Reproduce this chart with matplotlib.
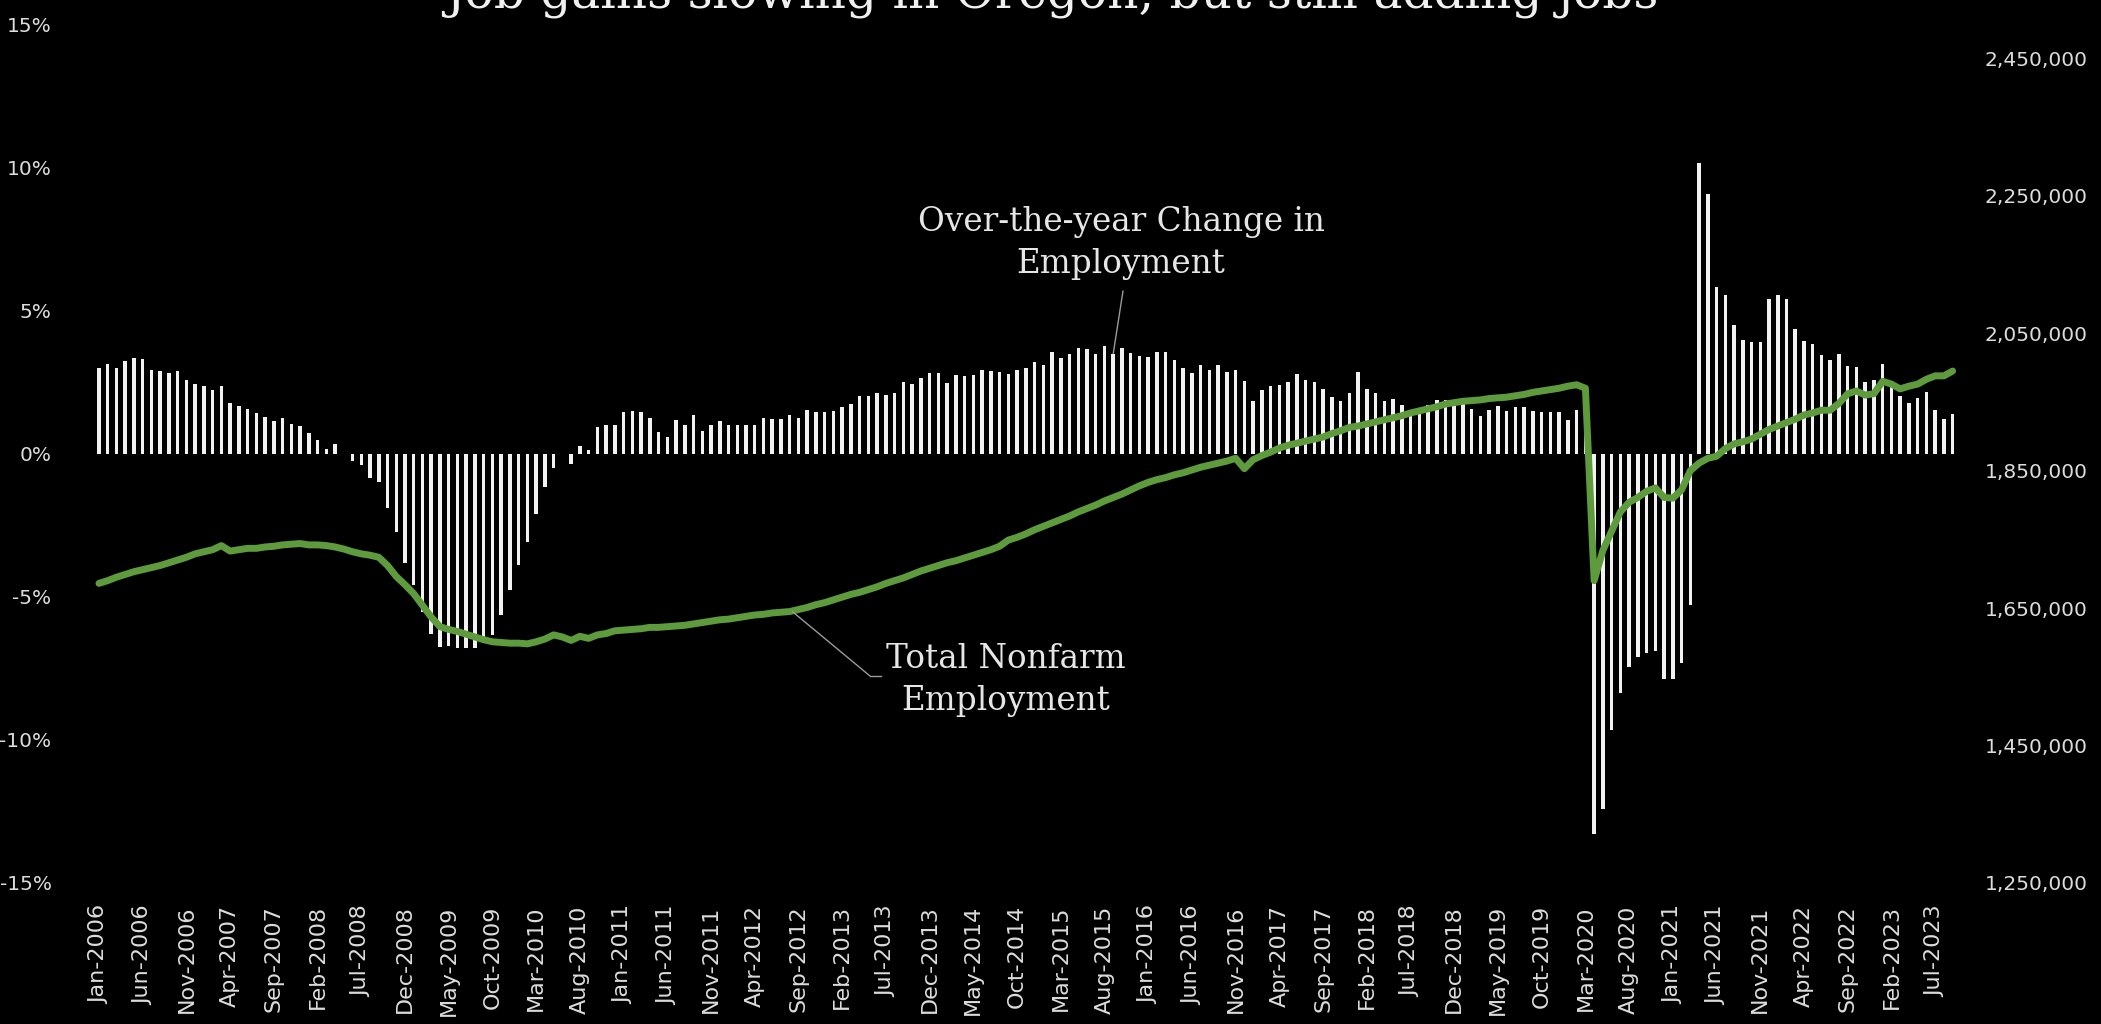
import numpy as np
import pandas as pd
import matplotlib
matplotlib.use("Agg")
import matplotlib.pyplot as plt
from matplotlib.lines import Line2D

# monthly series, Jan 2006 - Sep 2023
months = pd.date_range("2006-01-01", periods=213, freq="MS")
month_labels = list(months.strftime("%b-%Y"))

# over-the-year change in employment, percent
yoy_pct = [
    3.00, 3.14, 3.00, 3.22, 3.32, 3.29, 2.93, 2.88, 2.82, 2.88, 2.58, 2.44,
    2.34, 2.22, 2.36, 1.78, 1.65, 1.54, 1.43, 1.27, 1.14, 1.23, 1.02, 0.97,
    0.72, 0.47, 0.15, 0.33, 0.00, -0.25, -0.40, -0.87, -1.00, -1.90, -2.74, -3.84,
    -4.60, -5.53, -6.32, -6.75, -6.72, -6.80, -6.78, -6.80, -6.58, -6.34, -5.64, -4.77,
    -3.90, -3.08, -2.10, -1.16, -0.52, 0.00, -0.35, 0.27, 0.12, 0.92, 0.98, 1.00,
    1.45, 1.50, 1.45, 1.25, 0.74, 0.59, 1.16, 0.98, 1.35, 0.80, 0.98, 1.13,
    0.98, 0.98, 0.98, 0.98, 1.25, 1.20, 1.20, 1.35, 1.25, 1.53, 1.45, 1.45,
    1.50, 1.62, 1.74, 2.00, 2.00, 2.10, 2.06, 2.13, 2.50, 2.43, 2.63, 2.80,
    2.82, 2.45, 2.75, 2.70, 2.75, 2.92, 2.88, 2.84, 2.76, 2.92, 2.97, 3.20,
    3.08, 3.55, 3.32, 3.49, 3.67, 3.64, 3.49, 3.75, 3.49, 3.67, 3.52, 3.41,
    3.38, 3.55, 3.55, 3.26, 2.99, 2.82, 3.10, 2.91, 3.08, 2.83, 2.91, 2.53,
    1.83, 2.21, 2.35, 2.39, 2.48, 2.76, 2.58, 2.50, 2.27, 1.98, 1.83, 2.13,
    2.85, 2.24, 2.12, 1.83, 1.90, 1.71, 1.34, 1.51, 1.71, 1.86, 1.86, 1.69,
    1.92, 1.57, 1.32, 1.52, 1.65, 1.50, 1.64, 1.64, 1.47, 1.44, 1.44, 1.44,
    1.17, 1.52, 0.80, -13.30, -12.40, -9.65, -8.36, -7.47, -7.09, -6.97, -6.89, -7.89,
    -7.89, -7.31, -5.30, 10.13, 9.08, 5.82, 5.54, 4.48, 3.95, 3.90, 3.90, 5.40,
    5.52, 5.40, 4.35, 3.93, 3.81, 3.44, 3.28, 3.48, 3.06, 3.01, 2.51, 2.56,
    3.14, 2.31, 2.00, 1.77, 1.94, 2.14, 1.52, 1.22, 1.39,
]

# total nonfarm employment, thousands
nonfarm_k = [
    1686, 1690, 1695, 1699, 1703, 1706, 1709, 1712, 1716, 1720, 1724, 1729,
    1732, 1735, 1741, 1733, 1735, 1737, 1737, 1739, 1740, 1742, 1743, 1744,
    1742, 1742, 1741, 1739, 1736, 1732, 1729, 1727, 1724, 1712, 1696, 1684,
    1671, 1654, 1637, 1623, 1619, 1616, 1612, 1608, 1604, 1601, 1600, 1599,
    1599, 1598, 1601, 1605, 1611, 1608, 1603, 1609, 1606, 1611, 1613, 1617,
    1618, 1619, 1620, 1622, 1622, 1623, 1624, 1625, 1627, 1629, 1631, 1633,
    1634, 1636, 1638, 1640, 1641, 1643, 1644, 1645, 1648, 1651, 1655, 1658,
    1662, 1666, 1670, 1673, 1677, 1681, 1686, 1690, 1694, 1699, 1704, 1708,
    1712, 1716, 1719, 1723, 1727, 1731, 1735, 1740, 1749, 1753, 1758, 1764,
    1769, 1774, 1779, 1784, 1790, 1795, 1800, 1806, 1811, 1816, 1822, 1828,
    1833, 1837, 1840, 1844, 1847, 1851, 1855, 1858, 1861, 1864, 1868, 1853,
    1866, 1872, 1877, 1883, 1887, 1890, 1893, 1896, 1899, 1904, 1908, 1913,
    1915, 1918, 1921, 1924, 1927, 1930, 1934, 1937, 1940, 1943, 1947, 1949,
    1951, 1952, 1953, 1955, 1956, 1957, 1959, 1961, 1964, 1966, 1968, 1970,
    1973, 1975, 1970, 1690, 1734, 1762, 1790, 1804, 1811, 1820, 1825, 1811,
    1810, 1822, 1850, 1861, 1868, 1871, 1882, 1889, 1892, 1896, 1903, 1910,
    1915, 1920, 1925, 1931, 1934, 1938, 1938, 1948, 1962, 1966, 1960, 1962,
    1980, 1976, 1969, 1973, 1976, 1983, 1988, 1988, 1995,
]
nonfarm = np.array(nonfarm_k) * 1000

pct_ticks = [-15, -10, -5, 0, 5, 10, 15]
pct_labels = ["-15%", "-10%", "-5%", "0%", "5%", "10%", "15%"]
emp_ticks = [1250000, 1450000, 1650000, 1850000, 2050000, 2250000, 2450000]

W, H = 2101, 1024
txt = "#dcdcdc"
green = "#5e9b3c"

fig = plt.figure(figsize=(W / 100, H / 100), dpi=100, facecolor="black")
ax = fig.add_axes([94.6 / W, 1 - 883 / H, (1957 - 94.6) / W, (883 - 24) / H])
ax.set_facecolor("black")

x = np.arange(len(months))
ax.bar(x, yoy_pct, width=0.4, color="#f2f2f2", zorder=2)
ax.set_xlim(-0.5, len(months) - 0.5)
ax.set_ylim(-15, 15)
ax.set_yticks(pct_ticks)
ax.set_yticklabels(pct_labels, family="DejaVu Sans", fontsize=14.5)
ax.set_xticks(x[::5])
ax.set_xticklabels(month_labels[::5], rotation=90, family="DejaVu Sans", fontsize=16)
ax.tick_params(axis="y", length=0, pad=31, colors=txt)
ax.tick_params(axis="x", length=0, pad=16, colors=txt)

ax2 = ax.twinx()
ax2.plot(x, nonfarm, color=green, lw=5, solid_joinstyle="round", solid_capstyle="round")
ax2.set_ylim(1250000, 2500000)
ax2.set_yticks(emp_ticks)
ax2.set_yticklabels([f"{v:,}" for v in emp_ticks], family="DejaVu Sans", fontsize=14.5)
ax2.tick_params(axis="y", length=0, pad=20, colors=txt)

for a in (ax, ax2):
    for s in a.spines.values():
        s.set_visible(False)

fig.text(1052 / W, 1 - 8 / H, "Job gains slowing in Oregon, but still adding jobs",
         ha="center", va="baseline", fontsize=35, family="DejaVu Serif", color="#f0f0f0")

# callout for the bars
fig.text(1121 / W, 1 - 243 / H, "Over-the-year Change in\nEmployment", ha="center", va="center",
         multialignment="center", fontsize=23.5, family="DejaVu Serif", color="#e6e6e6", linespacing=1.4)
ax.annotate("", xy=(116, yoy_pct[116]), xycoords="data",
            xytext=(1123 / W, 1 - 291 / H), textcoords="figure fraction",
            arrowprops=dict(arrowstyle="-", color="#9a9a9a", lw=1, shrinkA=0, shrinkB=0))

# callout for the line
fig.text(1006 / W, 1 - 680 / H, "Total Nonfarm\nEmployment", ha="center", va="center",
         multialignment="center", fontsize=23.5, family="DejaVu Serif", color="#e6e6e6", linespacing=1.4)
ax2.annotate("", xy=(79.3, nonfarm[79]), xycoords="data",
             xytext=(870 / W, 1 - 676 / H), textcoords="figure fraction",
             arrowprops=dict(arrowstyle="-", color="#9a9a9a", lw=1, shrinkA=0, shrinkB=0))
fig.add_artist(Line2D([870 / W, 881 / W], [1 - 676 / H, 1 - 676 / H], color="#9a9a9a", lw=1))

fig.savefig("out.png", dpi=100, facecolor="black")
